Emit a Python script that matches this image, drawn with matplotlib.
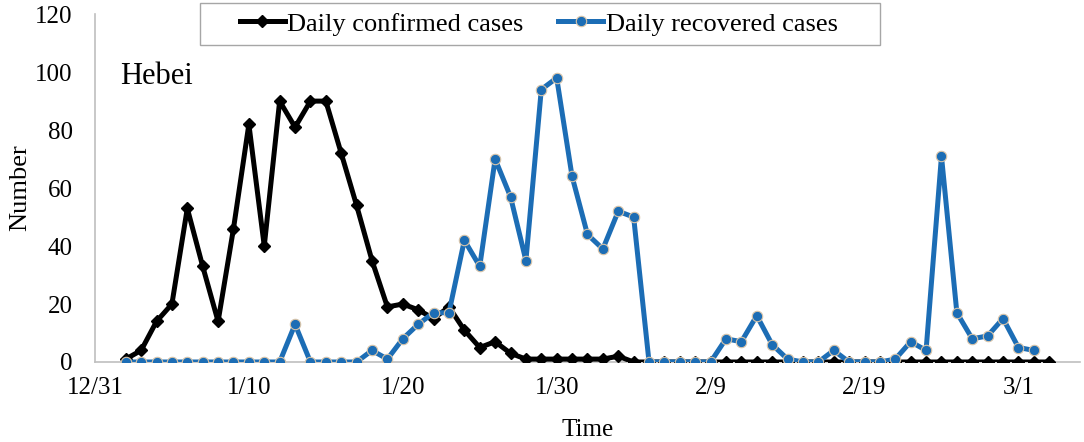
import numpy as np
import pandas as pd
import matplotlib
matplotlib.use('Agg')
import matplotlib.pyplot as plt
from matplotlib.patches import Rectangle

plt.rcParams['font.family'] = ['Liberation Serif', 'DejaVu Serif']

# daily counts, Hebei
confirmed = [1, 4, 14, 20, 53, 33, 14, 46, 82, 40, 90, 81, 90, 90, 72, 54, 35, 19, 20, 18,
             15, 19, 11, 5, 7, 3, 1, 1, 1, 1, 1, 1, 2, 0, 0, 0, 0, 0, 0, 0,
             0, 0, 0, 0, 0, 0, 0, 0, 0, 0, 0, 0, 0, 0, 0, 0, 0, 0, 0, 0, 0]
recovered = [0, 0, 0, 0, 0, 0, 0, 0, 0, 0, 0, 13, 0, 0, 0, 0, 4, 1, 8, 13,
             17, 17, 42, 33, 70, 57, 35, 94, 98, 64, 44, 39, 52, 50, 0, 0, 0, 0, 0, 8,
             7, 16, 6, 1, 0, 0, 4, 0, 0, 0, 1, 7, 4, 71, 17, 8, 9, 15, 5, 4]

start = pd.Timestamp('2019-01-02')
dates_c = pd.date_range(start, periods=len(confirmed), freq='D')
dates_r = pd.date_range(start, periods=len(recovered), freq='D')
tick_dates = pd.date_range('2018-12-31', '2019-03-01', freq='10D')
tick_labels = [f"{d.month}/{d.day}" for d in tick_dates]

blue = '#1C6DB5'

fig = plt.figure(figsize=(10.84, 4.42), dpi=100)
ax = fig.add_axes([0.0876, 0.181, 0.9087, 0.787])

ax.plot(dates_c, confirmed, color='black', lw=3.6, marker='D', markersize=6.5,
        label='Daily confirmed cases', zorder=3)
ax.plot(dates_r, recovered, color=blue, lw=3.6, marker='o', markersize=7.5,
        markerfacecolor=blue, markeredgecolor='#D8C4A8', markeredgewidth=0.8,
        label='Daily recovered cases', zorder=4)

ax.set_xlim(pd.Timestamp('2018-12-31'), pd.Timestamp('2019-03-05'))
ax.set_ylim(0, 120)
ax.set_yticks(np.arange(0, 121, 20))
ax.set_xticks(tick_dates)
ax.set_xticklabels(tick_labels)
ax.tick_params(axis='both', length=0, labelsize=18)
ax.tick_params(axis='y', pad=16)
ax.tick_params(axis='x', pad=11)

for s in ['top', 'right']:
    ax.spines[s].set_visible(False)
for s in ['left', 'bottom']:
    ax.spines[s].set_color('#BFBFBF')
    ax.spines[s].set_linewidth(1.2)

ax.set_xlabel('Time', fontsize=18, labelpad=14)
ax.set_ylabel('Number', fontsize=19, labelpad=3)

ax.text(0.026, 0.82, 'Hebei', transform=ax.transAxes, fontsize=22, va='center', ha='left')

leg = ax.legend(loc='center', bbox_to_anchor=(0.497, 0.946), bbox_transform=fig.transFigure,
                ncol=2, frameon=False, fontsize=19, handlelength=1.7, handletextpad=0.1,
                columnspacing=1.3)
fig.add_artist(Rectangle((0.1845, 0.898), 0.627, 0.095, transform=fig.transFigure,
                         fill=False, edgecolor='#A6A6A6', lw=1.0))

plt.savefig('out.png', dpi=100)
